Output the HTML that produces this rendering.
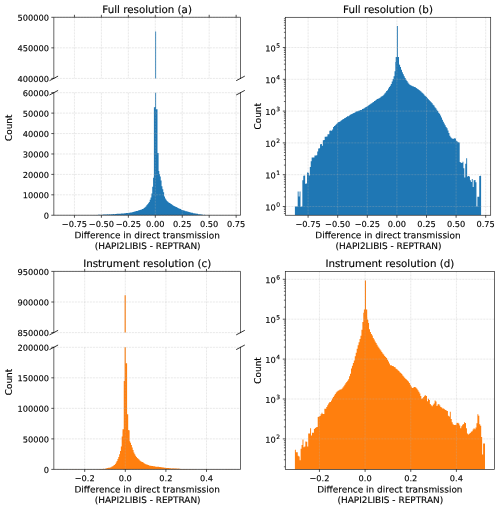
<!DOCTYPE html>
<html><head><meta charset="utf-8"><title>Histogram figure</title>
<style>html,body{margin:0;padding:0;background:#fff}svg{display:block}text{stroke:#000;stroke-width:0.13px;paint-order:stroke}</style></head>
<body>
<svg width="500" height="509" viewBox="0 0 500 509" font-family="DejaVu Sans, Liberation Sans, sans-serif" fill="#000">
<defs>
<clipPath id="ca_t"><rect x="53.80" y="17.30" width="186.70" height="61.10"/></clipPath>
<clipPath id="ca_b"><rect x="53.80" y="92.70" width="186.70" height="122.55"/></clipPath>
<clipPath id="cc_t"><rect x="53.80" y="271.40" width="186.70" height="61.20"/></clipPath>
<clipPath id="cc_b"><rect x="53.80" y="347.30" width="186.70" height="122.10"/></clipPath>
<clipPath id="cb"><rect x="285.30" y="17.30" width="205.40" height="197.95"/></clipPath>
<clipPath id="cd"><rect x="285.30" y="271.40" width="209.10" height="198.00"/></clipPath>
</defs>
<rect width="500" height="509" fill="#fff"/>
<path d="M62.30,215.25L62.30,215.25L63.15,215.25L63.15,215.25L64.00,215.25L64.00,215.19L64.85,215.19L64.85,215.25L65.69,215.25L65.69,215.25L66.54,215.25L66.54,215.25L67.39,215.25L67.39,215.14L68.24,215.14L68.24,215.16L69.09,215.16L69.09,215.12L69.94,215.12L69.94,215.23L70.78,215.23L70.78,215.11L71.63,215.11L71.63,215.24L72.48,215.24L72.48,215.25L73.33,215.25L73.33,215.18L74.18,215.18L74.18,215.25L75.03,215.25L75.03,215.25L75.88,215.25L75.88,215.11L76.72,215.11L76.72,215.25L77.57,215.25L77.57,215.18L78.42,215.18L78.42,215.22L79.27,215.22L79.27,215.19L80.12,215.19L80.12,215.25L80.97,215.25L80.97,215.23L81.82,215.23L81.82,215.15L82.66,215.15L82.66,215.25L83.51,215.25L83.51,215.25L84.36,215.25L84.36,215.19L85.21,215.19L85.21,215.17L86.06,215.17L86.06,215.22L86.91,215.22L86.91,215.25L87.75,215.25L87.75,215.25L88.60,215.25L88.60,215.25L89.45,215.25L89.45,215.25L90.30,215.25L90.30,215.25L91.15,215.25L91.15,215.17L92.00,215.17L92.00,215.06L92.85,215.06L92.85,215.20L93.69,215.20L93.69,215.14L94.54,215.14L94.54,215.06L95.39,215.06L95.39,214.98L96.24,214.98L96.24,214.99L97.09,214.99L97.09,214.97L97.94,214.97L97.94,214.86L98.79,214.86L98.79,214.83L99.63,214.83L99.63,214.83L100.48,214.83L100.48,214.91L101.33,214.91L101.33,214.79L102.18,214.79L102.18,214.65L103.03,214.65L103.03,214.61L103.88,214.61L103.88,214.62L104.72,214.62L104.72,214.50L105.57,214.50L105.57,214.46L106.42,214.46L106.42,214.51L107.27,214.51L107.27,214.34L108.12,214.34L108.12,214.41L108.97,214.41L108.97,214.33L109.82,214.33L109.82,214.38L110.66,214.38L110.66,214.35L111.51,214.35L111.51,214.28L112.36,214.28L112.36,214.23L113.21,214.23L113.21,214.09L114.06,214.09L114.06,214.13L114.91,214.13L114.91,213.98L115.76,213.98L115.76,213.99L116.60,213.99L116.60,213.86L117.45,213.86L117.45,213.83L118.30,213.83L118.30,213.66L119.15,213.66L119.15,213.65L120.00,213.65L120.00,213.81L120.85,213.81L120.85,213.53L121.69,213.53L121.69,213.61L122.54,213.61L122.54,213.54L123.39,213.54L123.39,213.50L124.24,213.50L124.24,213.37L125.09,213.37L125.09,213.33L125.94,213.33L125.94,213.08L126.79,213.08L126.79,213.00L127.63,213.00L127.63,212.95L128.48,212.95L128.48,212.79L129.33,212.79L129.33,212.63L130.18,212.63L130.18,212.49L131.03,212.49L131.03,212.47L131.88,212.47L131.88,212.13L132.73,212.13L132.73,212.12L133.57,212.12L133.57,211.79L134.42,211.79L134.42,211.51L135.27,211.51L135.27,211.32L136.12,211.32L136.12,210.94L136.97,210.94L136.97,210.90L137.82,210.90L137.82,210.62L138.66,210.62L138.66,210.29L139.51,210.29L139.51,209.92L140.36,209.92L140.36,209.74L141.21,209.74L141.21,209.42L142.06,209.42L142.06,209.10L142.91,209.10L142.91,208.81L143.76,208.81L143.76,207.97L144.60,207.97L144.60,207.14L145.45,207.14L145.45,206.42L146.30,206.42L146.30,205.26L147.15,205.26L147.15,204.20L148.00,204.20L148.00,203.31L148.85,203.31L148.85,202.02L149.70,202.02L149.70,199.75L150.54,199.75L150.54,197.39L151.39,197.39L151.39,193.44L152.24,193.44L152.24,186.76L153.09,186.76L153.09,177.74L153.94,177.74L153.94,176.01L154.79,176.01L154.79,175.39L155.63,175.39L155.63,174.71L156.48,174.71L156.48,174.12L157.33,174.12L157.33,173.47L158.18,173.47L158.18,172.87L159.03,172.87L159.03,173.88L159.88,173.88L159.88,176.58L160.73,176.58L160.73,180.39L161.57,180.39L161.57,186.18L162.42,186.18L162.42,189.22L163.27,189.22L163.27,192.24L164.12,192.24L164.12,196.53L164.97,196.53L164.97,198.51L165.82,198.51L165.82,199.76L166.67,199.76L166.67,200.98L167.51,200.98L167.51,201.69L168.36,201.69L168.36,202.42L169.21,202.42L169.21,203.12L170.06,203.12L170.06,203.57L170.91,203.57L170.91,204.07L171.76,204.07L171.76,204.68L172.60,204.68L172.60,205.29L173.45,205.29L173.45,205.98L174.30,205.98L174.30,206.28L175.15,206.28L175.15,206.79L176.00,206.79L176.00,207.01L176.85,207.01L176.85,207.46L177.70,207.46L177.70,208.02L178.54,208.02L178.54,208.50L179.39,208.50L179.39,208.76L180.24,208.76L180.24,209.10L181.09,209.10L181.09,209.77L181.94,209.77L181.94,209.95L182.79,209.95L182.79,210.34L183.64,210.34L183.64,210.42L184.48,210.42L184.48,210.83L185.33,210.83L185.33,211.13L186.18,211.13L186.18,211.35L187.03,211.35L187.03,211.49L187.88,211.49L187.88,211.86L188.73,211.86L188.73,211.94L189.57,211.94L189.57,212.24L190.42,212.24L190.42,212.53L191.27,212.53L191.27,212.85L192.12,212.85L192.12,212.80L192.97,212.80L192.97,213.18L193.82,213.18L193.82,213.32L194.67,213.32L194.67,213.54L195.51,213.54L195.51,213.52L196.36,213.52L196.36,213.64L197.21,213.64L197.21,213.81L198.06,213.81L198.06,214.14L198.91,214.14L198.91,214.32L199.76,214.32L199.76,214.37L200.61,214.37L200.61,214.44L201.45,214.44L201.45,214.52L202.30,214.52L202.30,214.81L203.15,214.81L203.15,214.96L204.00,214.96L204.00,214.86L204.85,214.86L204.85,215.04L205.70,215.04L205.70,215.25L206.54,215.25L206.54,215.25L207.39,215.25L207.39,215.19L208.24,215.19L208.24,215.18L209.09,215.18L209.09,215.23L209.94,215.23L209.94,215.25L210.79,215.25L210.79,215.13L211.64,215.13L211.64,215.25L212.48,215.25L212.48,215.25L213.33,215.25L213.33,215.25L214.18,215.25L214.18,215.17L215.03,215.17L215.03,215.25L215.88,215.25L215.88,215.25L216.73,215.25L216.73,215.20L217.58,215.20L217.58,215.25L218.42,215.25L218.42,215.25L219.27,215.25L219.27,215.25L220.12,215.25L220.12,215.11L220.97,215.11L220.97,215.12L221.82,215.12L221.82,215.25L222.67,215.25L222.67,215.19L223.51,215.19L223.51,215.25L224.36,215.25L224.36,215.15L225.21,215.15L225.21,215.25L226.06,215.25L226.06,215.25L226.91,215.25L226.91,215.25L227.76,215.25L227.76,215.12L228.61,215.12L228.61,215.24L229.45,215.24L229.45,215.12L230.30,215.12L230.30,215.25L231.15,215.25L231.15,215.23L232.00,215.23L232.00,215.25Z" fill="#1f77b4" clip-path="url(#ca_b)"/>
<path d="M153.90,215.25L153.90,107.20L155.20,107.20L155.20,215.25ZM155.20,215.25L155.20,60.00L156.10,60.00L156.10,215.25ZM156.10,215.25L156.10,109.30L157.50,109.30L157.50,215.25ZM157.50,215.25L157.50,153.00L158.60,153.00L158.60,215.25ZM158.60,215.25L158.60,171.00L159.30,171.00L159.30,215.25Z" fill="#1f77b4" clip-path="url(#ca_b)"/>
<path d="M155.20,83.40L155.20,31.50L156.10,31.50L156.10,83.40Z" fill="#1f77b4" clip-path="url(#ca_t)"/>
<line x1="74.45" y1="17.30" x2="74.45" y2="78.40" stroke="#b0b0b0" stroke-opacity="0.5" stroke-width="0.57" stroke-dasharray="2.09 0.91"/>
<line x1="101.40" y1="17.30" x2="101.40" y2="78.40" stroke="#b0b0b0" stroke-opacity="0.5" stroke-width="0.57" stroke-dasharray="2.09 0.91"/>
<line x1="128.35" y1="17.30" x2="128.35" y2="78.40" stroke="#b0b0b0" stroke-opacity="0.5" stroke-width="0.57" stroke-dasharray="2.09 0.91"/>
<line x1="155.30" y1="17.30" x2="155.30" y2="78.40" stroke="#b0b0b0" stroke-opacity="0.5" stroke-width="0.57" stroke-dasharray="2.09 0.91"/>
<line x1="182.25" y1="17.30" x2="182.25" y2="78.40" stroke="#b0b0b0" stroke-opacity="0.5" stroke-width="0.57" stroke-dasharray="2.09 0.91"/>
<line x1="209.20" y1="17.30" x2="209.20" y2="78.40" stroke="#b0b0b0" stroke-opacity="0.5" stroke-width="0.57" stroke-dasharray="2.09 0.91"/>
<line x1="236.15" y1="17.30" x2="236.15" y2="78.40" stroke="#b0b0b0" stroke-opacity="0.5" stroke-width="0.57" stroke-dasharray="2.09 0.91"/>
<line x1="74.45" y1="92.70" x2="74.45" y2="215.25" stroke="#b0b0b0" stroke-opacity="0.5" stroke-width="0.57" stroke-dasharray="2.09 0.91"/>
<line x1="101.40" y1="92.70" x2="101.40" y2="215.25" stroke="#b0b0b0" stroke-opacity="0.5" stroke-width="0.57" stroke-dasharray="2.09 0.91"/>
<line x1="128.35" y1="92.70" x2="128.35" y2="215.25" stroke="#b0b0b0" stroke-opacity="0.5" stroke-width="0.57" stroke-dasharray="2.09 0.91"/>
<line x1="155.30" y1="92.70" x2="155.30" y2="215.25" stroke="#b0b0b0" stroke-opacity="0.5" stroke-width="0.57" stroke-dasharray="2.09 0.91"/>
<line x1="182.25" y1="92.70" x2="182.25" y2="215.25" stroke="#b0b0b0" stroke-opacity="0.5" stroke-width="0.57" stroke-dasharray="2.09 0.91"/>
<line x1="209.20" y1="92.70" x2="209.20" y2="215.25" stroke="#b0b0b0" stroke-opacity="0.5" stroke-width="0.57" stroke-dasharray="2.09 0.91"/>
<line x1="236.15" y1="92.70" x2="236.15" y2="215.25" stroke="#b0b0b0" stroke-opacity="0.5" stroke-width="0.57" stroke-dasharray="2.09 0.91"/>
<line x1="53.80" y1="17.30" x2="240.50" y2="17.30" stroke="#b0b0b0" stroke-opacity="0.5" stroke-width="0.57" stroke-dasharray="2.09 0.91"/>
<line x1="53.80" y1="47.85" x2="240.50" y2="47.85" stroke="#b0b0b0" stroke-opacity="0.5" stroke-width="0.57" stroke-dasharray="2.09 0.91"/>
<line x1="53.80" y1="78.40" x2="240.50" y2="78.40" stroke="#b0b0b0" stroke-opacity="0.5" stroke-width="0.57" stroke-dasharray="2.09 0.91"/>
<line x1="53.80" y1="215.25" x2="240.50" y2="215.25" stroke="#b0b0b0" stroke-opacity="0.5" stroke-width="0.57" stroke-dasharray="2.09 0.91"/>
<line x1="53.80" y1="194.82" x2="240.50" y2="194.82" stroke="#b0b0b0" stroke-opacity="0.5" stroke-width="0.57" stroke-dasharray="2.09 0.91"/>
<line x1="53.80" y1="174.40" x2="240.50" y2="174.40" stroke="#b0b0b0" stroke-opacity="0.5" stroke-width="0.57" stroke-dasharray="2.09 0.91"/>
<line x1="53.80" y1="153.97" x2="240.50" y2="153.97" stroke="#b0b0b0" stroke-opacity="0.5" stroke-width="0.57" stroke-dasharray="2.09 0.91"/>
<line x1="53.80" y1="133.55" x2="240.50" y2="133.55" stroke="#b0b0b0" stroke-opacity="0.5" stroke-width="0.57" stroke-dasharray="2.09 0.91"/>
<line x1="53.80" y1="113.12" x2="240.50" y2="113.12" stroke="#b0b0b0" stroke-opacity="0.5" stroke-width="0.57" stroke-dasharray="2.09 0.91"/>
<line x1="53.80" y1="92.70" x2="240.50" y2="92.70" stroke="#b0b0b0" stroke-opacity="0.5" stroke-width="0.57" stroke-dasharray="2.09 0.91"/>
<path d="M62.30,469.40L62.30,469.31L63.15,469.31L63.15,469.32L64.00,469.32L64.00,469.40L64.85,469.40L64.85,469.32L65.69,469.32L65.69,469.34L66.54,469.34L66.54,469.39L67.39,469.39L67.39,469.40L68.24,469.40L68.24,469.40L69.09,469.40L69.09,469.40L69.94,469.40L69.94,469.37L70.78,469.37L70.78,469.40L71.63,469.40L71.63,469.33L72.48,469.33L72.48,469.36L73.33,469.36L73.33,469.40L74.18,469.40L74.18,469.33L75.03,469.33L75.03,469.34L75.88,469.34L75.88,469.35L76.72,469.35L76.72,469.40L77.57,469.40L77.57,469.30L78.42,469.30L78.42,469.31L79.27,469.31L79.27,469.39L80.12,469.39L80.12,469.33L80.97,469.33L80.97,469.40L81.82,469.40L81.82,469.40L82.66,469.40L82.66,469.40L83.51,469.40L83.51,469.40L84.36,469.40L84.36,469.38L85.21,469.38L85.21,469.31L86.06,469.31L86.06,469.39L86.91,469.39L86.91,469.37L87.75,469.37L87.75,469.40L88.60,469.40L88.60,469.33L89.45,469.33L89.45,469.35L90.30,469.35L90.30,469.40L91.15,469.40L91.15,469.35L92.00,469.35L92.00,469.38L92.85,469.38L92.85,469.40L93.69,469.40L93.69,469.36L94.54,469.36L94.54,469.33L95.39,469.33L95.39,469.40L96.24,469.40L96.24,469.38L97.09,469.38L97.09,469.35L97.94,469.35L97.94,469.19L98.79,469.19L98.79,469.22L99.63,469.22L99.63,469.10L100.48,469.10L100.48,469.07L101.33,469.07L101.33,469.09L102.18,469.09L102.18,468.89L103.03,468.89L103.03,468.86L103.88,468.86L103.88,468.92L104.72,468.92L104.72,468.77L105.57,468.77L105.57,468.47L106.42,468.47L106.42,468.32L107.27,468.32L107.27,468.10L108.12,468.10L108.12,467.87L108.97,467.87L108.97,467.75L109.82,467.75L109.82,467.41L110.66,467.41L110.66,467.31L111.51,467.31L111.51,466.58L112.36,466.58L112.36,466.17L113.21,466.17L113.21,465.56L114.06,465.56L114.06,464.94L114.91,464.94L114.91,464.04L115.76,464.04L115.76,462.48L116.60,462.48L116.60,461.02L117.45,461.02L117.45,459.03L118.30,459.03L118.30,456.99L119.15,456.99L119.15,454.26L120.00,454.26L120.00,450.96L120.85,450.96L120.85,446.50L121.69,446.50L121.69,436.43L122.54,436.43L122.54,429.34L123.39,429.34L123.39,429.27L124.24,429.27L124.24,429.43L125.09,429.43L125.09,429.77L125.94,429.77L125.94,429.92L126.79,429.92L126.79,430.20L127.63,430.20L127.63,430.36L128.48,430.36L128.48,430.58L129.33,430.58L129.33,441.35L130.18,441.35L130.18,442.78L131.03,442.78L131.03,444.94L131.88,444.94L131.88,447.44L132.73,447.44L132.73,450.01L133.57,450.01L133.57,452.57L134.42,452.57L134.42,454.13L135.27,454.13L135.27,455.68L136.12,455.68L136.12,457.08L136.97,457.08L136.97,457.89L137.82,457.89L137.82,458.75L138.66,458.75L138.66,459.51L139.51,459.51L139.51,460.49L140.36,460.49L140.36,461.14L141.21,461.14L141.21,461.70L142.06,461.70L142.06,462.10L142.91,462.10L142.91,462.58L143.76,462.58L143.76,463.17L144.60,463.17L144.60,463.63L145.45,463.63L145.45,464.15L146.30,464.15L146.30,464.54L147.15,464.54L147.15,464.87L148.00,464.87L148.00,464.98L148.85,464.98L148.85,465.38L149.70,465.38L149.70,465.64L150.54,465.64L150.54,465.79L151.39,465.79L151.39,465.91L152.24,465.91L152.24,466.06L153.09,466.06L153.09,466.26L153.94,466.26L153.94,466.32L154.79,466.32L154.79,466.48L155.63,466.48L155.63,466.65L156.48,466.65L156.48,466.63L157.33,466.63L157.33,466.81L158.18,466.81L158.18,466.86L159.03,466.86L159.03,466.97L159.88,466.97L159.88,467.05L160.73,467.05L160.73,467.20L161.57,467.20L161.57,467.31L162.42,467.31L162.42,467.48L163.27,467.48L163.27,467.58L164.12,467.58L164.12,467.72L164.97,467.72L164.97,467.74L165.82,467.74L165.82,467.90L166.67,467.90L166.67,467.89L167.51,467.89L167.51,468.04L168.36,468.04L168.36,468.09L169.21,468.09L169.21,468.19L170.06,468.19L170.06,468.19L170.91,468.19L170.91,468.38L171.76,468.38L171.76,468.40L172.60,468.40L172.60,468.33L173.45,468.33L173.45,468.47L174.30,468.47L174.30,468.61L175.15,468.61L175.15,468.48L176.00,468.48L176.00,468.58L176.85,468.58L176.85,468.71L177.70,468.71L177.70,468.61L178.54,468.61L178.54,468.80L179.39,468.80L179.39,468.81L180.24,468.81L180.24,468.88L181.09,468.88L181.09,468.89L181.94,468.89L181.94,469.01L182.79,469.01L182.79,468.93L183.64,468.93L183.64,469.00L184.48,469.00L184.48,468.92L185.33,468.92L185.33,469.05L186.18,469.05L186.18,469.05L187.03,469.05L187.03,469.20L187.88,469.20L187.88,469.22L188.73,469.22L188.73,469.08L189.57,469.08L189.57,469.09L190.42,469.09L190.42,469.14L191.27,469.14L191.27,469.18L192.12,469.18L192.12,469.32L192.97,469.32L192.97,469.32L193.82,469.32L193.82,469.34L194.67,469.34L194.67,469.36L195.51,469.36L195.51,469.30L196.36,469.30L196.36,469.38L197.21,469.38L197.21,469.40L198.06,469.40L198.06,469.40L198.91,469.40L198.91,469.40L199.76,469.40L199.76,469.34L200.61,469.34L200.61,469.40L201.45,469.40L201.45,469.38L202.30,469.38L202.30,469.40L203.15,469.40L203.15,469.34L204.00,469.34L204.00,469.37L204.85,469.37L204.85,469.37L205.70,469.37L205.70,469.38L206.54,469.38L206.54,469.30L207.39,469.30L207.39,469.40L208.24,469.40L208.24,469.33L209.09,469.33L209.09,469.40L209.94,469.40L209.94,469.40L210.79,469.40L210.79,469.40L211.64,469.40L211.64,469.36L212.48,469.36L212.48,469.36L213.33,469.36L213.33,469.40L214.18,469.40L214.18,469.38L215.03,469.38L215.03,469.33L215.88,469.33L215.88,469.40L216.73,469.40L216.73,469.30L217.58,469.30L217.58,469.40L218.42,469.40L218.42,469.36L219.27,469.36L219.27,469.38L220.12,469.38L220.12,469.40L220.97,469.40L220.97,469.39L221.82,469.39L221.82,469.40L222.67,469.40L222.67,469.38L223.51,469.38L223.51,469.40L224.36,469.40L224.36,469.40L225.21,469.40L225.21,469.40L226.06,469.40L226.06,469.32L226.91,469.32L226.91,469.37L227.76,469.37L227.76,469.40L228.61,469.40L228.61,469.36L229.45,469.36L229.45,469.40L230.30,469.40L230.30,469.34L231.15,469.34L231.15,469.40L232.00,469.40L232.00,469.40Z" fill="#ff7f0e" clip-path="url(#cc_b)"/>
<path d="M122.90,469.40L122.90,431.40L123.75,431.40L123.75,469.40ZM123.75,469.40L123.75,381.10L124.60,381.10L124.60,469.40ZM124.60,469.40L124.60,300.00L125.80,300.00L125.80,469.40ZM125.80,469.40L125.80,363.20L127.10,363.20L127.10,469.40ZM127.10,469.40L127.10,414.20L128.20,414.20L128.20,469.40ZM128.20,469.40L128.20,430.20L129.40,430.20L129.40,469.40Z" fill="#ff7f0e" clip-path="url(#cc_b)"/>
<path d="M124.60,337.60L124.60,295.20L125.80,295.20L125.80,337.60Z" fill="#ff7f0e" clip-path="url(#cc_t)"/>
<line x1="84.70" y1="271.40" x2="84.70" y2="332.60" stroke="#b0b0b0" stroke-opacity="0.5" stroke-width="0.57" stroke-dasharray="2.09 0.91"/>
<line x1="125.30" y1="271.40" x2="125.30" y2="332.60" stroke="#b0b0b0" stroke-opacity="0.5" stroke-width="0.57" stroke-dasharray="2.09 0.91"/>
<line x1="165.90" y1="271.40" x2="165.90" y2="332.60" stroke="#b0b0b0" stroke-opacity="0.5" stroke-width="0.57" stroke-dasharray="2.09 0.91"/>
<line x1="206.50" y1="271.40" x2="206.50" y2="332.60" stroke="#b0b0b0" stroke-opacity="0.5" stroke-width="0.57" stroke-dasharray="2.09 0.91"/>
<line x1="84.70" y1="347.30" x2="84.70" y2="469.40" stroke="#b0b0b0" stroke-opacity="0.5" stroke-width="0.57" stroke-dasharray="2.09 0.91"/>
<line x1="125.30" y1="347.30" x2="125.30" y2="469.40" stroke="#b0b0b0" stroke-opacity="0.5" stroke-width="0.57" stroke-dasharray="2.09 0.91"/>
<line x1="165.90" y1="347.30" x2="165.90" y2="469.40" stroke="#b0b0b0" stroke-opacity="0.5" stroke-width="0.57" stroke-dasharray="2.09 0.91"/>
<line x1="206.50" y1="347.30" x2="206.50" y2="469.40" stroke="#b0b0b0" stroke-opacity="0.5" stroke-width="0.57" stroke-dasharray="2.09 0.91"/>
<line x1="53.80" y1="271.40" x2="240.50" y2="271.40" stroke="#b0b0b0" stroke-opacity="0.5" stroke-width="0.57" stroke-dasharray="2.09 0.91"/>
<line x1="53.80" y1="302.00" x2="240.50" y2="302.00" stroke="#b0b0b0" stroke-opacity="0.5" stroke-width="0.57" stroke-dasharray="2.09 0.91"/>
<line x1="53.80" y1="332.60" x2="240.50" y2="332.60" stroke="#b0b0b0" stroke-opacity="0.5" stroke-width="0.57" stroke-dasharray="2.09 0.91"/>
<line x1="53.80" y1="469.40" x2="240.50" y2="469.40" stroke="#b0b0b0" stroke-opacity="0.5" stroke-width="0.57" stroke-dasharray="2.09 0.91"/>
<line x1="53.80" y1="438.88" x2="240.50" y2="438.88" stroke="#b0b0b0" stroke-opacity="0.5" stroke-width="0.57" stroke-dasharray="2.09 0.91"/>
<line x1="53.80" y1="408.35" x2="240.50" y2="408.35" stroke="#b0b0b0" stroke-opacity="0.5" stroke-width="0.57" stroke-dasharray="2.09 0.91"/>
<line x1="53.80" y1="377.82" x2="240.50" y2="377.82" stroke="#b0b0b0" stroke-opacity="0.5" stroke-width="0.57" stroke-dasharray="2.09 0.91"/>
<line x1="53.80" y1="347.30" x2="240.50" y2="347.30" stroke="#b0b0b0" stroke-opacity="0.5" stroke-width="0.57" stroke-dasharray="2.09 0.91"/>
<path d="M294.90,215.25L294.90,206.49L295.83,206.49L295.83,206.56L296.76,206.56L296.76,206.60L297.69,206.60L297.69,191.52L298.62,191.52L298.62,196.55L299.55,196.55L299.55,191.38L300.49,191.38L300.49,206.66L301.42,206.66L301.42,206.41L302.35,206.41L302.35,180.21L303.28,180.21L303.28,175.63L304.21,175.63L304.21,175.60L305.14,175.60L305.14,183.65L306.07,183.65L306.07,183.53L307.00,183.53L307.00,172.62L307.93,172.62L307.93,172.65L308.87,172.65L308.87,175.40L309.80,175.40L309.80,167.06L310.73,167.06L310.73,161.23L311.66,161.23L311.66,157.51L312.59,157.51L312.59,157.61L313.52,157.61L313.52,157.54L314.45,157.54L314.45,155.44L315.38,155.44L315.38,155.59L316.31,155.59L316.31,155.19L317.24,155.19L317.24,151.59L318.17,151.59L318.17,148.41L319.11,148.41L319.11,148.22L320.04,148.22L320.04,144.29L320.97,144.29L320.97,144.07L321.90,144.07L321.90,145.78L322.83,145.78L322.83,140.14L323.76,140.14L323.76,140.10L324.69,140.10L324.69,136.69L325.62,136.69L325.62,136.75L326.55,136.75L326.55,136.44L327.49,136.44L327.49,134.22L328.42,134.22L328.42,134.13L329.35,134.13L329.35,130.63L330.28,130.63L330.28,130.57L331.21,130.57L331.21,130.86L332.14,130.86L332.14,129.49L333.07,129.49L333.07,126.99L334.00,126.99L334.00,126.01L334.93,126.01L334.93,125.22L335.86,125.22L335.86,124.25L336.79,124.25L336.79,123.15L337.73,123.15L337.73,122.25L338.66,122.25L338.66,122.02L339.59,122.02L339.59,121.46L340.52,121.46L340.52,120.74L341.45,120.74L341.45,119.98L342.38,119.98L342.38,119.35L343.31,119.35L343.31,118.93L344.24,118.93L344.24,118.00L345.17,118.00L345.17,117.73L346.11,117.73L346.11,117.02L347.04,117.02L347.04,116.29L347.97,116.29L347.97,116.16L348.90,116.16L348.90,115.43L349.83,115.43L349.83,114.77L350.76,114.77L350.76,114.29L351.69,114.29L351.69,114.12L352.62,114.12L352.62,113.25L353.55,113.25L353.55,113.03L354.48,113.03L354.48,112.52L355.41,112.52L355.41,111.64L356.35,111.64L356.35,111.30L357.28,111.30L357.28,111.17L358.21,111.17L358.21,110.72L359.14,110.72L359.14,110.62L360.07,110.62L360.07,110.08L361.00,110.08L361.00,109.91L361.93,109.91L361.93,109.06L362.86,109.06L362.86,108.79L363.79,108.79L363.79,108.26L364.73,108.26L364.73,107.60L365.66,107.60L365.66,106.95L366.59,106.95L366.59,106.43L367.52,106.43L367.52,105.97L368.45,105.97L368.45,105.08L369.38,105.08L369.38,104.60L370.31,104.60L370.31,103.83L371.24,103.83L371.24,103.19L372.17,103.19L372.17,102.51L373.10,102.51L373.10,102.10L374.03,102.10L374.03,101.11L374.97,101.11L374.97,100.47L375.90,100.47L375.90,99.79L376.83,99.79L376.83,99.10L377.76,99.10L377.76,98.68L378.69,98.68L378.69,98.27L379.62,98.27L379.62,97.68L380.55,97.68L380.55,96.85L381.48,96.85L381.48,96.20L382.41,96.20L382.41,95.80L383.35,95.80L383.35,94.65L384.28,94.65L384.28,93.50L385.21,93.50L385.21,92.38L386.14,92.38L386.14,90.94L387.07,90.94L387.07,90.15L388.00,90.15L388.00,88.43L388.93,88.43L388.93,87.09L389.86,87.09L389.86,85.73L390.79,85.73L390.79,83.99L391.72,83.99L391.72,81.55L392.65,81.55L392.65,78.95L393.59,78.95L393.59,76.14L394.52,76.14L394.52,71.35L395.45,71.35L395.45,61.90L396.38,61.90L396.38,62.85L397.31,62.85L397.31,62.96L398.24,62.96L398.24,63.83L399.17,63.83L399.17,64.79L400.10,64.79L400.10,67.05L401.03,67.05L401.03,69.76L401.97,69.76L401.97,72.18L402.90,72.18L402.90,74.24L403.83,74.24L403.83,76.26L404.76,76.26L404.76,78.03L405.69,78.03L405.69,79.84L406.62,79.84L406.62,81.06L407.55,81.06L407.55,82.38L408.48,82.38L408.48,83.86L409.41,83.86L409.41,84.84L410.34,84.84L410.34,85.34L411.27,85.34L411.27,85.75L412.21,85.75L412.21,86.28L413.14,86.28L413.14,86.43L414.07,86.43L414.07,87.09L415.00,87.09L415.00,87.29L415.93,87.29L415.93,87.99L416.86,87.99L416.86,88.79L417.79,88.79L417.79,89.35L418.72,89.35L418.72,90.01L419.65,90.01L419.65,90.74L420.59,90.74L420.59,91.55L421.52,91.55L421.52,92.55L422.45,92.55L422.45,93.36L423.38,93.36L423.38,94.25L424.31,94.25L424.31,95.38L425.24,95.38L425.24,96.28L426.17,96.28L426.17,97.05L427.10,97.05L427.10,98.13L428.03,98.13L428.03,99.28L428.96,99.28L428.96,100.32L429.89,100.32L429.89,101.36L430.83,101.36L430.83,102.33L431.76,102.33L431.76,103.21L432.69,103.21L432.69,104.68L433.62,104.68L433.62,105.59L434.55,105.59L434.55,107.27L435.48,107.27L435.48,108.15L436.41,108.15L436.41,109.87L437.34,109.87L437.34,110.95L438.27,110.95L438.27,112.71L439.21,112.71L439.21,113.85L440.14,113.85L440.14,115.61L441.07,115.61L441.07,117.38L442.00,117.38L442.00,119.72L442.93,119.72L442.93,121.82L443.86,121.82L443.86,123.42L444.79,123.42L444.79,125.14L445.72,125.14L445.72,126.99L446.65,126.99L446.65,128.37L447.58,128.37L447.58,130.43L448.51,130.43L448.51,133.08L449.45,133.08L449.45,135.69L450.38,135.69L450.38,137.23L451.31,137.23L451.31,138.27L452.24,138.27L452.24,138.70L453.17,138.70L453.17,138.83L454.10,138.83L454.10,138.37L455.03,138.37L455.03,138.60L455.96,138.60L455.96,140.74L456.89,140.74L456.89,141.41L457.83,141.41L457.83,142.30L458.76,142.30L458.76,142.54L459.69,142.54L459.69,161.97L460.62,161.97L460.62,162.77L461.55,162.77L461.55,162.90L462.48,162.90L462.48,161.65L463.41,161.65L463.41,168.31L464.34,168.31L464.34,177.62L465.27,177.62L465.27,163.79L466.20,163.79L466.20,158.31L467.13,158.31L467.13,176.53L468.07,176.53L468.07,175.89L469.00,175.89L469.00,176.56L469.93,176.56L469.93,180.30L470.86,180.30L470.86,182.09L471.79,182.09L471.79,179.05L472.72,179.05L472.72,187.10L473.65,187.10L473.65,180.15L474.58,180.15L474.58,180.08L475.51,180.08L475.51,182.23L476.45,182.23L476.45,206.41L477.38,206.41L477.38,196.80L478.31,196.80L478.31,196.84L479.24,196.84L479.24,175.98L480.17,175.98L480.17,175.75L481.10,175.75L481.10,215.25Z" fill="#1f77b4" clip-path="url(#cb)"/>
<path d="M395.70,215.25L395.70,57.00L396.90,57.00L396.90,215.25ZM396.90,215.25L396.90,25.90L397.85,25.90L397.85,215.25ZM397.85,215.25L397.85,57.00L399.00,57.00L399.00,215.25Z" fill="#1f77b4" clip-path="url(#cb)"/>
<line x1="308.10" y1="17.30" x2="308.10" y2="215.25" stroke="#b0b0b0" stroke-opacity="0.5" stroke-width="0.57" stroke-dasharray="2.09 0.91"/>
<line x1="337.70" y1="17.30" x2="337.70" y2="215.25" stroke="#b0b0b0" stroke-opacity="0.5" stroke-width="0.57" stroke-dasharray="2.09 0.91"/>
<line x1="367.30" y1="17.30" x2="367.30" y2="215.25" stroke="#b0b0b0" stroke-opacity="0.5" stroke-width="0.57" stroke-dasharray="2.09 0.91"/>
<line x1="396.90" y1="17.30" x2="396.90" y2="215.25" stroke="#b0b0b0" stroke-opacity="0.5" stroke-width="0.57" stroke-dasharray="2.09 0.91"/>
<line x1="426.50" y1="17.30" x2="426.50" y2="215.25" stroke="#b0b0b0" stroke-opacity="0.5" stroke-width="0.57" stroke-dasharray="2.09 0.91"/>
<line x1="456.10" y1="17.30" x2="456.10" y2="215.25" stroke="#b0b0b0" stroke-opacity="0.5" stroke-width="0.57" stroke-dasharray="2.09 0.91"/>
<line x1="485.70" y1="17.30" x2="485.70" y2="215.25" stroke="#b0b0b0" stroke-opacity="0.5" stroke-width="0.57" stroke-dasharray="2.09 0.91"/>
<line x1="285.30" y1="206.50" x2="490.70" y2="206.50" stroke="#b0b0b0" stroke-opacity="0.5" stroke-width="0.57" stroke-dasharray="2.09 0.91"/>
<line x1="285.30" y1="174.70" x2="490.70" y2="174.70" stroke="#b0b0b0" stroke-opacity="0.5" stroke-width="0.57" stroke-dasharray="2.09 0.91"/>
<line x1="285.30" y1="142.90" x2="490.70" y2="142.90" stroke="#b0b0b0" stroke-opacity="0.5" stroke-width="0.57" stroke-dasharray="2.09 0.91"/>
<line x1="285.30" y1="111.10" x2="490.70" y2="111.10" stroke="#b0b0b0" stroke-opacity="0.5" stroke-width="0.57" stroke-dasharray="2.09 0.91"/>
<line x1="285.30" y1="79.30" x2="490.70" y2="79.30" stroke="#b0b0b0" stroke-opacity="0.5" stroke-width="0.57" stroke-dasharray="2.09 0.91"/>
<line x1="285.30" y1="47.50" x2="490.70" y2="47.50" stroke="#b0b0b0" stroke-opacity="0.5" stroke-width="0.57" stroke-dasharray="2.09 0.91"/>
<path d="M294.90,469.40L294.90,449.74L295.85,449.74L295.85,452.36L296.80,452.36L296.80,452.16L297.75,452.16L297.75,455.69L298.70,455.69L298.70,456.43L299.65,456.43L299.65,460.32L300.60,460.32L300.60,448.86L301.55,448.86L301.55,444.91L302.50,444.91L302.50,439.45L303.45,439.45L303.45,447.14L304.40,447.14L304.40,446.48L305.36,446.48L305.36,441.57L306.31,441.57L306.31,441.84L307.26,441.84L307.26,446.56L308.21,446.56L308.21,433.53L309.16,433.53L309.16,433.49L310.11,433.49L310.11,428.20L311.06,428.20L311.06,435.55L312.01,435.55L312.01,432.81L312.96,432.81L312.96,432.79L313.91,432.79L313.91,429.08L314.86,429.08L314.86,427.97L315.81,427.97L315.81,427.34L316.76,427.34L316.76,427.11L317.71,427.11L317.71,417.04L318.66,417.04L318.66,416.56L319.61,416.56L319.61,415.93L320.56,415.93L320.56,414.34L321.51,414.34L321.51,412.74L322.46,412.74L322.46,414.09L323.41,414.09L323.41,413.93L324.37,413.93L324.37,408.87L325.32,408.87L325.32,408.81L326.27,408.81L326.27,407.06L327.22,407.06L327.22,405.31L328.17,405.31L328.17,403.42L329.12,403.42L329.12,402.15L330.07,402.15L330.07,402.12L331.02,402.12L331.02,400.52L331.97,400.52L331.97,398.48L332.92,398.48L332.92,397.09L333.87,397.09L333.87,395.41L334.82,395.41L334.82,393.92L335.77,393.92L335.77,392.60L336.72,392.60L336.72,391.42L337.67,391.42L337.67,390.81L338.62,390.81L338.62,390.28L339.57,390.28L339.57,389.60L340.52,389.60L340.52,389.44L341.47,389.44L341.47,388.80L342.42,388.80L342.42,387.49L343.38,387.49L343.38,386.31L344.33,386.31L344.33,384.78L345.28,384.78L345.28,383.30L346.23,383.30L346.23,381.97L347.18,381.97L347.18,380.78L348.13,380.78L348.13,379.23L349.08,379.23L349.08,376.36L350.03,376.36L350.03,373.71L350.98,373.71L350.98,368.51L351.93,368.51L351.93,365.79L352.88,365.79L352.88,362.95L353.83,362.95L353.83,360.42L354.78,360.42L354.78,356.13L355.73,356.13L355.73,352.65L356.68,352.65L356.68,348.77L357.63,348.77L357.63,345.13L358.58,345.13L358.58,342.21L359.53,342.21L359.53,339.12L360.48,339.12L360.48,335.78L361.44,335.78L361.44,329.86L362.39,329.86L362.39,322.09L363.34,322.09L363.34,312.63L364.29,312.63L364.29,313.74L365.24,313.74L365.24,315.54L366.19,315.54L366.19,317.24L367.14,317.24L367.14,319.52L368.09,319.52L368.09,323.03L369.04,323.03L369.04,329.25L369.99,329.25L369.99,332.10L370.94,332.10L370.94,333.90L371.89,333.90L371.89,335.60L372.84,335.60L372.84,337.94L373.79,337.94L373.79,339.53L374.74,339.53L374.74,341.42L375.69,341.42L375.69,342.89L376.64,342.89L376.64,344.81L377.59,344.81L377.59,346.49L378.54,346.49L378.54,347.76L379.49,347.76L379.49,349.36L380.44,349.36L380.44,350.54L381.40,350.54L381.40,352.00L382.35,352.00L382.35,353.38L383.30,353.38L383.30,354.59L384.25,354.59L384.25,355.91L385.20,355.91L385.20,356.98L386.15,356.98L386.15,358.04L387.10,358.04L387.10,359.75L388.05,359.75L388.05,361.50L389.00,361.50L389.00,363.48L389.95,363.48L389.95,365.18L390.90,365.18L390.90,365.36L391.85,365.36L391.85,365.92L392.80,365.92L392.80,366.06L393.75,366.06L393.75,366.93L394.70,366.93L394.70,367.36L395.65,367.36L395.65,368.65L396.60,368.65L396.60,369.13L397.55,369.13L397.55,370.14L398.50,370.14L398.50,371.01L399.45,371.01L399.45,372.21L400.41,372.21L400.41,373.08L401.36,373.08L401.36,374.12L402.31,374.12L402.31,375.53L403.26,375.53L403.26,376.41L404.21,376.41L404.21,377.66L405.16,377.66L405.16,378.65L406.11,378.65L406.11,379.39L407.06,379.39L407.06,380.56L408.01,380.56L408.01,381.39L408.96,381.39L408.96,383.10L409.91,383.10L409.91,384.87L410.86,384.87L410.86,386.50L411.81,386.50L411.81,388.03L412.76,388.03L412.76,387.77L413.71,387.77L413.71,386.93L414.66,386.93L414.66,386.95L415.61,386.95L415.61,387.76L416.56,387.76L416.56,388.66L417.51,388.66L417.51,390.30L418.46,390.30L418.46,391.86L419.42,391.86L419.42,393.41L420.37,393.41L420.37,395.98L421.32,395.98L421.32,398.82L422.27,398.82L422.27,398.35L423.22,398.35L423.22,397.02L424.17,397.02L424.17,395.85L425.12,395.85L425.12,395.35L426.07,395.35L426.07,395.99L427.02,395.99L427.02,401.19L427.97,401.19L427.97,398.70L428.92,398.70L428.92,399.97L429.87,399.97L429.87,403.88L430.82,403.88L430.82,405.18L431.77,405.18L431.77,406.16L432.72,406.16L432.72,404.87L433.67,404.87L433.67,403.48L434.62,403.48L434.62,400.58L435.57,400.58L435.57,401.55L436.52,401.55L436.52,406.02L437.48,406.02L437.48,404.57L438.43,404.57L438.43,404.07L439.38,404.07L439.38,405.48L440.33,405.48L440.33,406.95L441.28,406.95L441.28,407.62L442.23,407.62L442.23,408.49L443.18,408.49L443.18,408.55L444.13,408.55L444.13,409.28L445.08,409.28L445.08,409.89L446.03,409.89L446.03,410.47L446.98,410.47L446.98,411.01L447.93,411.01L447.93,415.84L448.88,415.84L448.88,416.62L449.83,416.62L449.83,411.72L450.78,411.72L450.78,418.96L451.73,418.96L451.73,422.22L452.68,422.22L452.68,424.22L453.63,424.22L453.63,424.91L454.58,424.91L454.58,424.95L455.53,424.95L455.53,424.80L456.49,424.80L456.49,422.99L457.44,422.99L457.44,422.71L458.39,422.71L458.39,423.50L459.34,423.50L459.34,425.46L460.29,425.46L460.29,428.16L461.24,428.16L461.24,426.29L462.19,426.29L462.19,424.78L463.14,424.78L463.14,424.09L464.09,424.09L464.09,422.24L465.04,422.24L465.04,423.01L465.99,423.01L465.99,428.19L466.94,428.19L466.94,433.48L467.89,433.48L467.89,434.43L468.84,434.43L468.84,433.84L469.79,433.84L469.79,433.08L470.74,433.08L470.74,431.83L471.69,431.83L471.69,431.20L472.64,431.20L472.64,429.45L473.59,429.45L473.59,428.35L474.54,428.35L474.54,429.13L475.50,429.13L475.50,427.51L476.45,427.51L476.45,423.37L477.40,423.37L477.40,414.35L478.35,414.35L478.35,415.64L479.30,415.64L479.30,424.17L480.25,424.17L480.25,425.71L481.20,425.71L481.20,437.06L482.15,437.06L482.15,454.56L483.10,454.56L483.10,443.41L484.05,443.41L484.05,443.53L485.00,443.53L485.00,469.40Z" fill="#ff7f0e" clip-path="url(#cd)"/>
<path d="M363.90,469.40L363.90,309.60L364.90,309.60L364.90,469.40ZM364.90,469.40L364.90,280.60L366.00,280.60L366.00,469.40ZM366.00,469.40L366.00,309.60L367.20,309.60L367.20,469.40ZM367.20,469.40L367.20,320.00L368.20,320.00L368.20,469.40Z" fill="#ff7f0e" clip-path="url(#cd)"/>
<line x1="319.45" y1="271.40" x2="319.45" y2="469.40" stroke="#b0b0b0" stroke-opacity="0.5" stroke-width="0.57" stroke-dasharray="2.09 0.91"/>
<line x1="365.10" y1="271.40" x2="365.10" y2="469.40" stroke="#b0b0b0" stroke-opacity="0.5" stroke-width="0.57" stroke-dasharray="2.09 0.91"/>
<line x1="410.75" y1="271.40" x2="410.75" y2="469.40" stroke="#b0b0b0" stroke-opacity="0.5" stroke-width="0.57" stroke-dasharray="2.09 0.91"/>
<line x1="456.40" y1="271.40" x2="456.40" y2="469.40" stroke="#b0b0b0" stroke-opacity="0.5" stroke-width="0.57" stroke-dasharray="2.09 0.91"/>
<line x1="285.30" y1="438.90" x2="494.40" y2="438.90" stroke="#b0b0b0" stroke-opacity="0.5" stroke-width="0.57" stroke-dasharray="2.09 0.91"/>
<line x1="285.30" y1="399.00" x2="494.40" y2="399.00" stroke="#b0b0b0" stroke-opacity="0.5" stroke-width="0.57" stroke-dasharray="2.09 0.91"/>
<line x1="285.30" y1="359.10" x2="494.40" y2="359.10" stroke="#b0b0b0" stroke-opacity="0.5" stroke-width="0.57" stroke-dasharray="2.09 0.91"/>
<line x1="285.30" y1="319.20" x2="494.40" y2="319.20" stroke="#b0b0b0" stroke-opacity="0.5" stroke-width="0.57" stroke-dasharray="2.09 0.91"/>
<line x1="285.30" y1="279.30" x2="494.40" y2="279.30" stroke="#b0b0b0" stroke-opacity="0.5" stroke-width="0.57" stroke-dasharray="2.09 0.91"/>
<path d="M53.8,78.4L53.8,17.3L240.5,17.3L240.5,78.4" fill="none" stroke="#1c1c1c" stroke-width="0.67" stroke-linecap="square"/>
<path d="M53.8,92.7L53.8,215.25L240.5,215.25L240.5,92.7" fill="none" stroke="#1c1c1c" stroke-width="0.67" stroke-linecap="square"/>
<line x1="74.45" y1="17.30" x2="74.45" y2="14.80" stroke="#000" stroke-width="0.67"/>
<line x1="74.45" y1="215.25" x2="74.45" y2="217.75" stroke="#000" stroke-width="0.67"/>
<line x1="101.40" y1="17.30" x2="101.40" y2="14.80" stroke="#000" stroke-width="0.67"/>
<line x1="101.40" y1="215.25" x2="101.40" y2="217.75" stroke="#000" stroke-width="0.67"/>
<line x1="128.35" y1="17.30" x2="128.35" y2="14.80" stroke="#000" stroke-width="0.67"/>
<line x1="128.35" y1="215.25" x2="128.35" y2="217.75" stroke="#000" stroke-width="0.67"/>
<line x1="155.30" y1="17.30" x2="155.30" y2="14.80" stroke="#000" stroke-width="0.67"/>
<line x1="155.30" y1="215.25" x2="155.30" y2="217.75" stroke="#000" stroke-width="0.67"/>
<line x1="182.25" y1="17.30" x2="182.25" y2="14.80" stroke="#000" stroke-width="0.67"/>
<line x1="182.25" y1="215.25" x2="182.25" y2="217.75" stroke="#000" stroke-width="0.67"/>
<line x1="209.20" y1="17.30" x2="209.20" y2="14.80" stroke="#000" stroke-width="0.67"/>
<line x1="209.20" y1="215.25" x2="209.20" y2="217.75" stroke="#000" stroke-width="0.67"/>
<line x1="236.15" y1="17.30" x2="236.15" y2="14.80" stroke="#000" stroke-width="0.67"/>
<line x1="236.15" y1="215.25" x2="236.15" y2="217.75" stroke="#000" stroke-width="0.67"/>
<line x1="53.80" y1="17.30" x2="51.30" y2="17.30" stroke="#000" stroke-width="0.67"/>
<text x="49.10" y="20.84" font-size="8.25" text-anchor="end" transform="rotate(0.03 49.10 20.84)" >500000</text>
<line x1="53.80" y1="47.85" x2="51.30" y2="47.85" stroke="#000" stroke-width="0.67"/>
<text x="49.10" y="51.38" font-size="8.25" text-anchor="end" transform="rotate(0.03 49.10 51.38)" >450000</text>
<line x1="53.80" y1="78.40" x2="51.30" y2="78.40" stroke="#000" stroke-width="0.67"/>
<text x="49.10" y="81.94" font-size="8.25" text-anchor="end" transform="rotate(0.03 49.10 81.94)" >400000</text>
<line x1="53.80" y1="215.25" x2="51.30" y2="215.25" stroke="#000" stroke-width="0.67"/>
<text x="49.10" y="218.78" font-size="8.25" text-anchor="end" transform="rotate(0.03 49.10 218.78)" >0</text>
<line x1="53.80" y1="194.82" x2="51.30" y2="194.82" stroke="#000" stroke-width="0.67"/>
<text x="49.10" y="198.36" font-size="8.25" text-anchor="end" transform="rotate(0.03 49.10 198.36)" >10000</text>
<line x1="53.80" y1="174.40" x2="51.30" y2="174.40" stroke="#000" stroke-width="0.67"/>
<text x="49.10" y="177.94" font-size="8.25" text-anchor="end" transform="rotate(0.03 49.10 177.94)" >20000</text>
<line x1="53.80" y1="153.97" x2="51.30" y2="153.97" stroke="#000" stroke-width="0.67"/>
<text x="49.10" y="157.51" font-size="8.25" text-anchor="end" transform="rotate(0.03 49.10 157.51)" >30000</text>
<line x1="53.80" y1="133.55" x2="51.30" y2="133.55" stroke="#000" stroke-width="0.67"/>
<text x="49.10" y="137.09" font-size="8.25" text-anchor="end" transform="rotate(0.03 49.10 137.09)" >40000</text>
<line x1="53.80" y1="113.12" x2="51.30" y2="113.12" stroke="#000" stroke-width="0.67"/>
<text x="49.10" y="116.66" font-size="8.25" text-anchor="end" transform="rotate(0.03 49.10 116.66)" >50000</text>
<line x1="53.80" y1="92.70" x2="51.30" y2="92.70" stroke="#000" stroke-width="0.67"/>
<text x="49.10" y="96.24" font-size="8.25" text-anchor="end" transform="rotate(0.03 49.10 96.24)" >60000</text>
<text x="74.45" y="227.05" font-size="8.25" text-anchor="middle" transform="rotate(0.03 74.45 227.05)" >−0.75</text>
<text x="101.40" y="227.05" font-size="8.25" text-anchor="middle" transform="rotate(0.03 101.40 227.05)" >−0.50</text>
<text x="128.35" y="227.05" font-size="8.25" text-anchor="middle" transform="rotate(0.03 128.35 227.05)" >−0.25</text>
<text x="155.30" y="227.05" font-size="8.25" text-anchor="middle" transform="rotate(0.03 155.30 227.05)" >0.00</text>
<text x="182.25" y="227.05" font-size="8.25" text-anchor="middle" transform="rotate(0.03 182.25 227.05)" >0.25</text>
<text x="209.20" y="227.05" font-size="8.25" text-anchor="middle" transform="rotate(0.03 209.20 227.05)" >0.50</text>
<text x="236.15" y="227.05" font-size="8.25" text-anchor="middle" transform="rotate(0.03 236.15 227.05)" >0.75</text>
<line x1="49.50" y1="80.70" x2="58.10" y2="76.10" stroke="#000" stroke-width="0.8"/>
<line x1="49.50" y1="95.00" x2="58.10" y2="90.40" stroke="#000" stroke-width="0.8"/>
<line x1="236.20" y1="80.70" x2="244.80" y2="76.10" stroke="#000" stroke-width="0.8"/>
<line x1="236.20" y1="95.00" x2="244.80" y2="90.40" stroke="#000" stroke-width="0.8"/>
<text x="147.15" y="13.00" font-size="10.3" text-anchor="middle" transform="rotate(0.03 147.15 13.00)" >Full resolution (a)</text>
<text x="147.15" y="238.35" font-size="8.95" text-anchor="middle" transform="rotate(0.03 147.15 238.35)" >Difference in direct transmission</text>
<text x="147.65" y="248.95" font-size="8.95" text-anchor="middle" transform="rotate(0.03 147.65 248.95)" >(HAPI2LIBIS - REPTRAN)</text>
<text transform="translate(11.7,127.80) rotate(-90)" font-size="8.95" text-anchor="middle">Count</text>
<path d="M53.8,332.6L53.8,271.4L240.5,271.4L240.5,332.6" fill="none" stroke="#1c1c1c" stroke-width="0.67" stroke-linecap="square"/>
<path d="M53.8,347.3L53.8,469.4L240.5,469.4L240.5,347.3" fill="none" stroke="#1c1c1c" stroke-width="0.67" stroke-linecap="square"/>
<line x1="84.70" y1="271.40" x2="84.70" y2="268.90" stroke="#000" stroke-width="0.67"/>
<line x1="84.70" y1="469.40" x2="84.70" y2="471.90" stroke="#000" stroke-width="0.67"/>
<line x1="125.30" y1="271.40" x2="125.30" y2="268.90" stroke="#000" stroke-width="0.67"/>
<line x1="125.30" y1="469.40" x2="125.30" y2="471.90" stroke="#000" stroke-width="0.67"/>
<line x1="165.90" y1="271.40" x2="165.90" y2="268.90" stroke="#000" stroke-width="0.67"/>
<line x1="165.90" y1="469.40" x2="165.90" y2="471.90" stroke="#000" stroke-width="0.67"/>
<line x1="206.50" y1="271.40" x2="206.50" y2="268.90" stroke="#000" stroke-width="0.67"/>
<line x1="206.50" y1="469.40" x2="206.50" y2="471.90" stroke="#000" stroke-width="0.67"/>
<line x1="53.80" y1="271.40" x2="51.30" y2="271.40" stroke="#000" stroke-width="0.67"/>
<text x="49.10" y="274.93" font-size="8.25" text-anchor="end" transform="rotate(0.03 49.10 274.93)" >950000</text>
<line x1="53.80" y1="302.00" x2="51.30" y2="302.00" stroke="#000" stroke-width="0.67"/>
<text x="49.10" y="305.53" font-size="8.25" text-anchor="end" transform="rotate(0.03 49.10 305.53)" >900000</text>
<line x1="53.80" y1="332.60" x2="51.30" y2="332.60" stroke="#000" stroke-width="0.67"/>
<text x="49.10" y="336.13" font-size="8.25" text-anchor="end" transform="rotate(0.03 49.10 336.13)" >850000</text>
<line x1="53.80" y1="469.40" x2="51.30" y2="469.40" stroke="#000" stroke-width="0.67"/>
<text x="49.10" y="472.93" font-size="8.25" text-anchor="end" transform="rotate(0.03 49.10 472.93)" >0</text>
<line x1="53.80" y1="438.88" x2="51.30" y2="438.88" stroke="#000" stroke-width="0.67"/>
<text x="49.10" y="442.41" font-size="8.25" text-anchor="end" transform="rotate(0.03 49.10 442.41)" >50000</text>
<line x1="53.80" y1="408.35" x2="51.30" y2="408.35" stroke="#000" stroke-width="0.67"/>
<text x="49.10" y="411.88" font-size="8.25" text-anchor="end" transform="rotate(0.03 49.10 411.88)" >100000</text>
<line x1="53.80" y1="377.82" x2="51.30" y2="377.82" stroke="#000" stroke-width="0.67"/>
<text x="49.10" y="381.36" font-size="8.25" text-anchor="end" transform="rotate(0.03 49.10 381.36)" >150000</text>
<line x1="53.80" y1="347.30" x2="51.30" y2="347.30" stroke="#000" stroke-width="0.67"/>
<text x="49.10" y="350.83" font-size="8.25" text-anchor="end" transform="rotate(0.03 49.10 350.83)" >200000</text>
<text x="84.70" y="481.20" font-size="8.25" text-anchor="middle" transform="rotate(0.03 84.70 481.20)" >−0.2</text>
<text x="125.30" y="481.20" font-size="8.25" text-anchor="middle" transform="rotate(0.03 125.30 481.20)" >0.0</text>
<text x="165.90" y="481.20" font-size="8.25" text-anchor="middle" transform="rotate(0.03 165.90 481.20)" >0.2</text>
<text x="206.50" y="481.20" font-size="8.25" text-anchor="middle" transform="rotate(0.03 206.50 481.20)" >0.4</text>
<line x1="49.50" y1="334.90" x2="58.10" y2="330.30" stroke="#000" stroke-width="0.8"/>
<line x1="49.50" y1="349.60" x2="58.10" y2="345.00" stroke="#000" stroke-width="0.8"/>
<line x1="236.20" y1="334.90" x2="244.80" y2="330.30" stroke="#000" stroke-width="0.8"/>
<line x1="236.20" y1="349.60" x2="244.80" y2="345.00" stroke="#000" stroke-width="0.8"/>
<text x="147.15" y="267.10" font-size="10.3" text-anchor="middle" transform="rotate(0.03 147.15 267.10)" >Instrument resolution (c)</text>
<text x="147.15" y="492.50" font-size="8.95" text-anchor="middle" transform="rotate(0.03 147.15 492.50)" >Difference in direct transmission</text>
<text x="147.65" y="503.10" font-size="8.95" text-anchor="middle" transform="rotate(0.03 147.65 503.10)" >(HAPI2LIBIS - REPTRAN)</text>
<text transform="translate(11.7,382.00) rotate(-90)" font-size="8.95" text-anchor="middle">Count</text>
<rect x="285.3" y="17.3" width="205.40" height="197.95" fill="none" stroke="#1c1c1c" stroke-width="0.67" stroke-linecap="square"/>
<line x1="308.10" y1="215.25" x2="308.10" y2="217.75" stroke="#000" stroke-width="0.67"/>
<text x="308.10" y="227.05" font-size="8.25" text-anchor="middle" transform="rotate(0.03 308.10 227.05)" >−0.75</text>
<line x1="337.70" y1="215.25" x2="337.70" y2="217.75" stroke="#000" stroke-width="0.67"/>
<text x="337.70" y="227.05" font-size="8.25" text-anchor="middle" transform="rotate(0.03 337.70 227.05)" >−0.50</text>
<line x1="367.30" y1="215.25" x2="367.30" y2="217.75" stroke="#000" stroke-width="0.67"/>
<text x="367.30" y="227.05" font-size="8.25" text-anchor="middle" transform="rotate(0.03 367.30 227.05)" >−0.25</text>
<line x1="396.90" y1="215.25" x2="396.90" y2="217.75" stroke="#000" stroke-width="0.67"/>
<text x="396.90" y="227.05" font-size="8.25" text-anchor="middle" transform="rotate(0.03 396.90 227.05)" >0.00</text>
<line x1="426.50" y1="215.25" x2="426.50" y2="217.75" stroke="#000" stroke-width="0.67"/>
<text x="426.50" y="227.05" font-size="8.25" text-anchor="middle" transform="rotate(0.03 426.50 227.05)" >0.25</text>
<line x1="456.10" y1="215.25" x2="456.10" y2="217.75" stroke="#000" stroke-width="0.67"/>
<text x="456.10" y="227.05" font-size="8.25" text-anchor="middle" transform="rotate(0.03 456.10 227.05)" >0.50</text>
<line x1="485.70" y1="215.25" x2="485.70" y2="217.75" stroke="#000" stroke-width="0.67"/>
<text x="485.70" y="227.05" font-size="8.25" text-anchor="middle" transform="rotate(0.03 485.70 227.05)" >0.75</text>
<line x1="285.30" y1="206.50" x2="282.80" y2="206.50" stroke="#000" stroke-width="0.67"/>
<text x="280.20" y="210.40" font-size="8.25" text-anchor="end" transform="rotate(0.03 280.20 210.40)">10<tspan font-size="6.0" dx="0.5" dy="-3.7">0</tspan></text>
<line x1="285.30" y1="174.70" x2="282.80" y2="174.70" stroke="#000" stroke-width="0.67"/>
<text x="280.20" y="178.60" font-size="8.25" text-anchor="end" transform="rotate(0.03 280.20 178.60)">10<tspan font-size="6.0" dx="0.5" dy="-3.7">1</tspan></text>
<line x1="285.30" y1="142.90" x2="282.80" y2="142.90" stroke="#000" stroke-width="0.67"/>
<text x="280.20" y="146.80" font-size="8.25" text-anchor="end" transform="rotate(0.03 280.20 146.80)">10<tspan font-size="6.0" dx="0.5" dy="-3.7">2</tspan></text>
<line x1="285.30" y1="111.10" x2="282.80" y2="111.10" stroke="#000" stroke-width="0.67"/>
<text x="280.20" y="115.00" font-size="8.25" text-anchor="end" transform="rotate(0.03 280.20 115.00)">10<tspan font-size="6.0" dx="0.5" dy="-3.7">3</tspan></text>
<line x1="285.30" y1="79.30" x2="282.80" y2="79.30" stroke="#000" stroke-width="0.67"/>
<text x="280.20" y="83.20" font-size="8.25" text-anchor="end" transform="rotate(0.03 280.20 83.20)">10<tspan font-size="6.0" dx="0.5" dy="-3.7">4</tspan></text>
<line x1="285.30" y1="47.50" x2="282.80" y2="47.50" stroke="#000" stroke-width="0.67"/>
<text x="280.20" y="51.40" font-size="8.25" text-anchor="end" transform="rotate(0.03 280.20 51.40)">10<tspan font-size="6.0" dx="0.5" dy="-3.7">5</tspan></text>
<line x1="285.30" y1="213.55" x2="283.90" y2="213.55" stroke="#000" stroke-width="0.6"/>
<line x1="285.30" y1="211.43" x2="283.90" y2="211.43" stroke="#000" stroke-width="0.6"/>
<line x1="285.30" y1="209.58" x2="283.90" y2="209.58" stroke="#000" stroke-width="0.6"/>
<line x1="285.30" y1="207.96" x2="283.90" y2="207.96" stroke="#000" stroke-width="0.6"/>
<line x1="285.30" y1="196.93" x2="283.90" y2="196.93" stroke="#000" stroke-width="0.6"/>
<line x1="285.30" y1="191.33" x2="283.90" y2="191.33" stroke="#000" stroke-width="0.6"/>
<line x1="285.30" y1="187.35" x2="283.90" y2="187.35" stroke="#000" stroke-width="0.6"/>
<line x1="285.30" y1="184.27" x2="283.90" y2="184.27" stroke="#000" stroke-width="0.6"/>
<line x1="285.30" y1="181.75" x2="283.90" y2="181.75" stroke="#000" stroke-width="0.6"/>
<line x1="285.30" y1="179.63" x2="283.90" y2="179.63" stroke="#000" stroke-width="0.6"/>
<line x1="285.30" y1="177.78" x2="283.90" y2="177.78" stroke="#000" stroke-width="0.6"/>
<line x1="285.30" y1="176.16" x2="283.90" y2="176.16" stroke="#000" stroke-width="0.6"/>
<line x1="285.30" y1="165.13" x2="283.90" y2="165.13" stroke="#000" stroke-width="0.6"/>
<line x1="285.30" y1="159.53" x2="283.90" y2="159.53" stroke="#000" stroke-width="0.6"/>
<line x1="285.30" y1="155.55" x2="283.90" y2="155.55" stroke="#000" stroke-width="0.6"/>
<line x1="285.30" y1="152.47" x2="283.90" y2="152.47" stroke="#000" stroke-width="0.6"/>
<line x1="285.30" y1="149.95" x2="283.90" y2="149.95" stroke="#000" stroke-width="0.6"/>
<line x1="285.30" y1="147.83" x2="283.90" y2="147.83" stroke="#000" stroke-width="0.6"/>
<line x1="285.30" y1="145.98" x2="283.90" y2="145.98" stroke="#000" stroke-width="0.6"/>
<line x1="285.30" y1="144.36" x2="283.90" y2="144.36" stroke="#000" stroke-width="0.6"/>
<line x1="285.30" y1="133.33" x2="283.90" y2="133.33" stroke="#000" stroke-width="0.6"/>
<line x1="285.30" y1="127.73" x2="283.90" y2="127.73" stroke="#000" stroke-width="0.6"/>
<line x1="285.30" y1="123.75" x2="283.90" y2="123.75" stroke="#000" stroke-width="0.6"/>
<line x1="285.30" y1="120.67" x2="283.90" y2="120.67" stroke="#000" stroke-width="0.6"/>
<line x1="285.30" y1="118.15" x2="283.90" y2="118.15" stroke="#000" stroke-width="0.6"/>
<line x1="285.30" y1="116.03" x2="283.90" y2="116.03" stroke="#000" stroke-width="0.6"/>
<line x1="285.30" y1="114.18" x2="283.90" y2="114.18" stroke="#000" stroke-width="0.6"/>
<line x1="285.30" y1="112.56" x2="283.90" y2="112.56" stroke="#000" stroke-width="0.6"/>
<line x1="285.30" y1="101.53" x2="283.90" y2="101.53" stroke="#000" stroke-width="0.6"/>
<line x1="285.30" y1="95.93" x2="283.90" y2="95.93" stroke="#000" stroke-width="0.6"/>
<line x1="285.30" y1="91.95" x2="283.90" y2="91.95" stroke="#000" stroke-width="0.6"/>
<line x1="285.30" y1="88.87" x2="283.90" y2="88.87" stroke="#000" stroke-width="0.6"/>
<line x1="285.30" y1="86.35" x2="283.90" y2="86.35" stroke="#000" stroke-width="0.6"/>
<line x1="285.30" y1="84.23" x2="283.90" y2="84.23" stroke="#000" stroke-width="0.6"/>
<line x1="285.30" y1="82.38" x2="283.90" y2="82.38" stroke="#000" stroke-width="0.6"/>
<line x1="285.30" y1="80.76" x2="283.90" y2="80.76" stroke="#000" stroke-width="0.6"/>
<line x1="285.30" y1="69.73" x2="283.90" y2="69.73" stroke="#000" stroke-width="0.6"/>
<line x1="285.30" y1="64.13" x2="283.90" y2="64.13" stroke="#000" stroke-width="0.6"/>
<line x1="285.30" y1="60.15" x2="283.90" y2="60.15" stroke="#000" stroke-width="0.6"/>
<line x1="285.30" y1="57.07" x2="283.90" y2="57.07" stroke="#000" stroke-width="0.6"/>
<line x1="285.30" y1="54.55" x2="283.90" y2="54.55" stroke="#000" stroke-width="0.6"/>
<line x1="285.30" y1="52.43" x2="283.90" y2="52.43" stroke="#000" stroke-width="0.6"/>
<line x1="285.30" y1="50.58" x2="283.90" y2="50.58" stroke="#000" stroke-width="0.6"/>
<line x1="285.30" y1="48.96" x2="283.90" y2="48.96" stroke="#000" stroke-width="0.6"/>
<line x1="285.30" y1="37.93" x2="283.90" y2="37.93" stroke="#000" stroke-width="0.6"/>
<line x1="285.30" y1="32.33" x2="283.90" y2="32.33" stroke="#000" stroke-width="0.6"/>
<line x1="285.30" y1="28.35" x2="283.90" y2="28.35" stroke="#000" stroke-width="0.6"/>
<line x1="285.30" y1="25.27" x2="283.90" y2="25.27" stroke="#000" stroke-width="0.6"/>
<line x1="285.30" y1="22.75" x2="283.90" y2="22.75" stroke="#000" stroke-width="0.6"/>
<line x1="285.30" y1="20.63" x2="283.90" y2="20.63" stroke="#000" stroke-width="0.6"/>
<line x1="285.30" y1="18.78" x2="283.90" y2="18.78" stroke="#000" stroke-width="0.6"/>
<text x="388.00" y="13.00" font-size="10.3" text-anchor="middle" transform="rotate(0.03 388.00 13.00)" >Full resolution (b)</text>
<text x="388.00" y="238.35" font-size="8.95" text-anchor="middle" transform="rotate(0.03 388.00 238.35)" >Difference in direct transmission</text>
<text x="388.50" y="248.95" font-size="8.95" text-anchor="middle" transform="rotate(0.03 388.50 248.95)" >(HAPI2LIBIS - REPTRAN)</text>
<text transform="translate(261.0,116.28) rotate(-90)" font-size="8.95" text-anchor="middle">Count</text>
<rect x="285.3" y="271.4" width="209.10" height="198.00" fill="none" stroke="#1c1c1c" stroke-width="0.67" stroke-linecap="square"/>
<line x1="319.45" y1="469.40" x2="319.45" y2="471.90" stroke="#000" stroke-width="0.67"/>
<text x="319.45" y="481.20" font-size="8.25" text-anchor="middle" transform="rotate(0.03 319.45 481.20)" >−0.2</text>
<line x1="365.10" y1="469.40" x2="365.10" y2="471.90" stroke="#000" stroke-width="0.67"/>
<text x="365.10" y="481.20" font-size="8.25" text-anchor="middle" transform="rotate(0.03 365.10 481.20)" >0.0</text>
<line x1="410.75" y1="469.40" x2="410.75" y2="471.90" stroke="#000" stroke-width="0.67"/>
<text x="410.75" y="481.20" font-size="8.25" text-anchor="middle" transform="rotate(0.03 410.75 481.20)" >0.2</text>
<line x1="456.40" y1="469.40" x2="456.40" y2="471.90" stroke="#000" stroke-width="0.67"/>
<text x="456.40" y="481.20" font-size="8.25" text-anchor="middle" transform="rotate(0.03 456.40 481.20)" >0.4</text>
<line x1="285.30" y1="438.90" x2="282.80" y2="438.90" stroke="#000" stroke-width="0.67"/>
<text x="280.20" y="442.80" font-size="8.25" text-anchor="end" transform="rotate(0.03 280.20 442.80)">10<tspan font-size="6.0" dx="0.5" dy="-3.7">2</tspan></text>
<line x1="285.30" y1="399.00" x2="282.80" y2="399.00" stroke="#000" stroke-width="0.67"/>
<text x="280.20" y="402.90" font-size="8.25" text-anchor="end" transform="rotate(0.03 280.20 402.90)">10<tspan font-size="6.0" dx="0.5" dy="-3.7">3</tspan></text>
<line x1="285.30" y1="359.10" x2="282.80" y2="359.10" stroke="#000" stroke-width="0.67"/>
<text x="280.20" y="363.00" font-size="8.25" text-anchor="end" transform="rotate(0.03 280.20 363.00)">10<tspan font-size="6.0" dx="0.5" dy="-3.7">4</tspan></text>
<line x1="285.30" y1="319.20" x2="282.80" y2="319.20" stroke="#000" stroke-width="0.67"/>
<text x="280.20" y="323.10" font-size="8.25" text-anchor="end" transform="rotate(0.03 280.20 323.10)">10<tspan font-size="6.0" dx="0.5" dy="-3.7">5</tspan></text>
<line x1="285.30" y1="279.30" x2="282.80" y2="279.30" stroke="#000" stroke-width="0.67"/>
<text x="280.20" y="283.20" font-size="8.25" text-anchor="end" transform="rotate(0.03 280.20 283.20)">10<tspan font-size="6.0" dx="0.5" dy="-3.7">6</tspan></text>
<line x1="285.30" y1="466.79" x2="283.90" y2="466.79" stroke="#000" stroke-width="0.6"/>
<line x1="285.30" y1="459.76" x2="283.90" y2="459.76" stroke="#000" stroke-width="0.6"/>
<line x1="285.30" y1="454.78" x2="283.90" y2="454.78" stroke="#000" stroke-width="0.6"/>
<line x1="285.30" y1="450.91" x2="283.90" y2="450.91" stroke="#000" stroke-width="0.6"/>
<line x1="285.30" y1="447.75" x2="283.90" y2="447.75" stroke="#000" stroke-width="0.6"/>
<line x1="285.30" y1="445.08" x2="283.90" y2="445.08" stroke="#000" stroke-width="0.6"/>
<line x1="285.30" y1="442.77" x2="283.90" y2="442.77" stroke="#000" stroke-width="0.6"/>
<line x1="285.30" y1="440.73" x2="283.90" y2="440.73" stroke="#000" stroke-width="0.6"/>
<line x1="285.30" y1="426.89" x2="283.90" y2="426.89" stroke="#000" stroke-width="0.6"/>
<line x1="285.30" y1="419.86" x2="283.90" y2="419.86" stroke="#000" stroke-width="0.6"/>
<line x1="285.30" y1="414.88" x2="283.90" y2="414.88" stroke="#000" stroke-width="0.6"/>
<line x1="285.30" y1="411.01" x2="283.90" y2="411.01" stroke="#000" stroke-width="0.6"/>
<line x1="285.30" y1="407.85" x2="283.90" y2="407.85" stroke="#000" stroke-width="0.6"/>
<line x1="285.30" y1="405.18" x2="283.90" y2="405.18" stroke="#000" stroke-width="0.6"/>
<line x1="285.30" y1="402.87" x2="283.90" y2="402.87" stroke="#000" stroke-width="0.6"/>
<line x1="285.30" y1="400.83" x2="283.90" y2="400.83" stroke="#000" stroke-width="0.6"/>
<line x1="285.30" y1="386.99" x2="283.90" y2="386.99" stroke="#000" stroke-width="0.6"/>
<line x1="285.30" y1="379.96" x2="283.90" y2="379.96" stroke="#000" stroke-width="0.6"/>
<line x1="285.30" y1="374.98" x2="283.90" y2="374.98" stroke="#000" stroke-width="0.6"/>
<line x1="285.30" y1="371.11" x2="283.90" y2="371.11" stroke="#000" stroke-width="0.6"/>
<line x1="285.30" y1="367.95" x2="283.90" y2="367.95" stroke="#000" stroke-width="0.6"/>
<line x1="285.30" y1="365.28" x2="283.90" y2="365.28" stroke="#000" stroke-width="0.6"/>
<line x1="285.30" y1="362.97" x2="283.90" y2="362.97" stroke="#000" stroke-width="0.6"/>
<line x1="285.30" y1="360.93" x2="283.90" y2="360.93" stroke="#000" stroke-width="0.6"/>
<line x1="285.30" y1="347.09" x2="283.90" y2="347.09" stroke="#000" stroke-width="0.6"/>
<line x1="285.30" y1="340.06" x2="283.90" y2="340.06" stroke="#000" stroke-width="0.6"/>
<line x1="285.30" y1="335.08" x2="283.90" y2="335.08" stroke="#000" stroke-width="0.6"/>
<line x1="285.30" y1="331.21" x2="283.90" y2="331.21" stroke="#000" stroke-width="0.6"/>
<line x1="285.30" y1="328.05" x2="283.90" y2="328.05" stroke="#000" stroke-width="0.6"/>
<line x1="285.30" y1="325.38" x2="283.90" y2="325.38" stroke="#000" stroke-width="0.6"/>
<line x1="285.30" y1="323.07" x2="283.90" y2="323.07" stroke="#000" stroke-width="0.6"/>
<line x1="285.30" y1="321.03" x2="283.90" y2="321.03" stroke="#000" stroke-width="0.6"/>
<line x1="285.30" y1="307.19" x2="283.90" y2="307.19" stroke="#000" stroke-width="0.6"/>
<line x1="285.30" y1="300.16" x2="283.90" y2="300.16" stroke="#000" stroke-width="0.6"/>
<line x1="285.30" y1="295.18" x2="283.90" y2="295.18" stroke="#000" stroke-width="0.6"/>
<line x1="285.30" y1="291.31" x2="283.90" y2="291.31" stroke="#000" stroke-width="0.6"/>
<line x1="285.30" y1="288.15" x2="283.90" y2="288.15" stroke="#000" stroke-width="0.6"/>
<line x1="285.30" y1="285.48" x2="283.90" y2="285.48" stroke="#000" stroke-width="0.6"/>
<line x1="285.30" y1="283.17" x2="283.90" y2="283.17" stroke="#000" stroke-width="0.6"/>
<line x1="285.30" y1="281.13" x2="283.90" y2="281.13" stroke="#000" stroke-width="0.6"/>
<text x="389.85" y="267.10" font-size="10.3" text-anchor="middle" transform="rotate(0.03 389.85 267.10)" >Instrument resolution (d)</text>
<text x="389.85" y="492.50" font-size="8.95" text-anchor="middle" transform="rotate(0.03 389.85 492.50)" >Difference in direct transmission</text>
<text x="390.35" y="503.10" font-size="8.95" text-anchor="middle" transform="rotate(0.03 390.35 503.10)" >(HAPI2LIBIS - REPTRAN)</text>
<text transform="translate(261.0,370.40) rotate(-90)" font-size="8.95" text-anchor="middle">Count</text>
</svg>
</body></html>
